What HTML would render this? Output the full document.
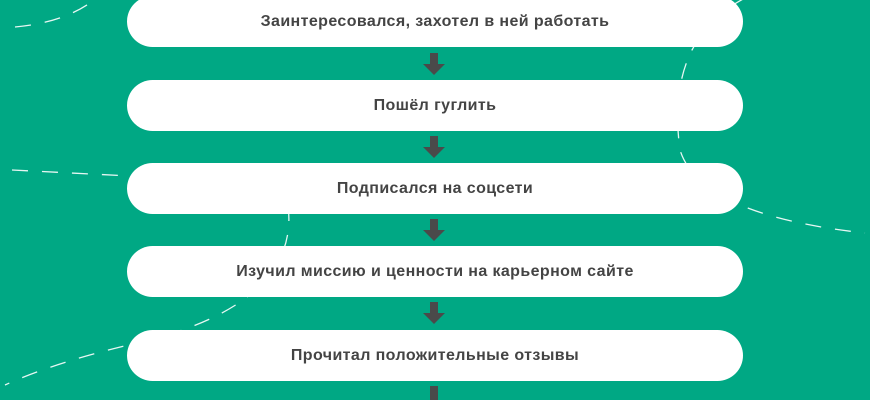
<!DOCTYPE html>
<html><head><meta charset="utf-8"><style>
body{margin:0;width:870px;height:400px;overflow:hidden;background:#00a884;position:relative;font-family:"Liberation Sans",sans-serif}
.b{position:absolute;left:127px;width:616px;height:51px;background:#fff;border-radius:26px;display:flex;align-items:center;justify-content:center;font-weight:bold;font-size:16px;letter-spacing:0.4px;color:#444}
svg{position:absolute;left:0;top:0}
</style></head><body>
<svg width="870" height="400">
<g fill="none" stroke="#fff" stroke-width="1.3" stroke-dasharray="16 14" opacity="0.9">
<path d="M15 27 Q70 22 100 -5"/>
<path d="M745 -2 Q665 40 680 150 Q700 215 865 233"/>
<path d="M12 170 L130 176"/>
<path d="M288 205 Q300 300 150 340 Q60 360 5 385"/>
</g>
<g fill="#4a4a4a">
<rect x="430" y="53" width="8" height="11"/><polygon points="423,64 445,64 434,75"/>
<rect x="430" y="136" width="8" height="11"/><polygon points="423,147 445,147 434,158"/>
<rect x="430" y="219" width="8" height="11"/><polygon points="423,230 445,230 434,241"/>
<rect x="430" y="302" width="8" height="11"/><polygon points="423,313 445,313 434,324"/>
<rect x="430" y="386" width="8" height="14"/>
</g>
</svg>
<div class="b" style="top:-4px">Заинтересовался, захотел в ней работать</div>
<div class="b" style="top:80px">Пошёл гуглить</div>
<div class="b" style="top:163px">Подписался на соцсети</div>
<div class="b" style="top:246px">Изучил миссию и ценности на карьерном сайте</div>
<div class="b" style="top:330px">Прочитал положительные отзывы</div>
</body></html>
